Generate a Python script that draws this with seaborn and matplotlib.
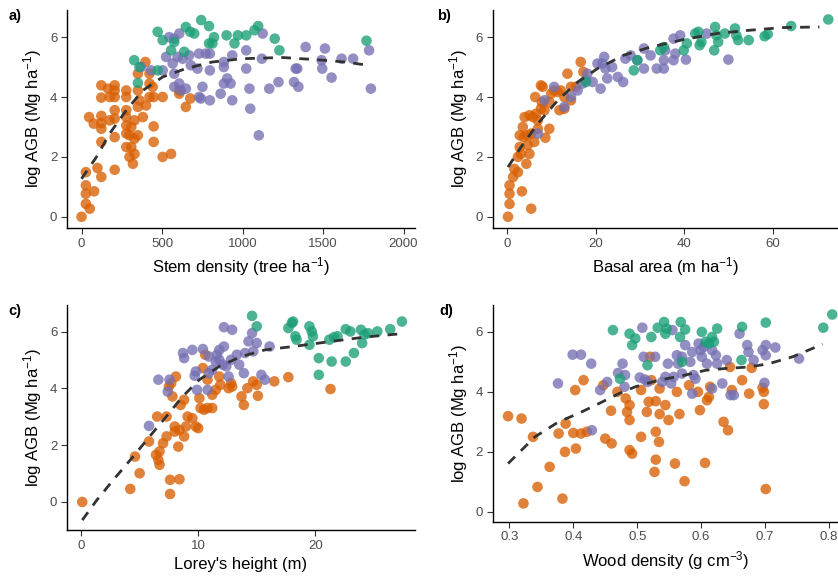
import matplotlib
matplotlib.use("Agg")
import matplotlib.pyplot as plt
import seaborn as sns
import pandas as pd

# ---------------- data ----------------
groups = ["G1", "G2", "G3"]
colors = ["#D95F02", "#7570B3", "#1B9E77"]

# Panel a: stem density
a_or_x = [0, 27, 27, 27, 51, 78, 27, 99, 123, 206, 47, 76, 123, 123, 123, 123, 123, 123, 165, 175, 206, 206, 206, 206, 206, 175, 206,
          278, 278, 278, 278, 278, 278, 278, 298, 319, 329, 309, 298, 329, 350, 309, 329, 350, 360, 350, 350, 381, 401, 422, 442, 422,
          422, 397, 448, 448, 448, 504, 504, 556, 607, 607, 648, 675]
a_or_y = [0, 0.43, 0.77, 1.05, 0.27, 0.85, 1.49, 1.63, 1.33, 1.57, 3.33, 3.11, 3.37, 3.13, 2.94, 2.5, 3.98, 4.39, 4.28, 4.0, 4.39, 4.22,
          4.0, 3.56, 3.28, 3.22, 2.66, 4.22, 4.0, 3.56, 3.33, 3.05, 2.78, 2.33, 2.0, 1.77, 2.1, 2.33, 2.72, 2.61, 2.72, 3.0, 3.22, 3.67,
          3.89, 4.22, 4.78, 3.33, 3.72, 4.0, 4.34, 4.45, 4.78, 5.17, 4.0, 3.02, 2.5, 4.0, 2.0, 2.1, 4.22, 4.11, 3.67, 3.95]
a_pu_x = [370, 432, 504, 525, 566, 576, 576, 607, 597, 607, 576, 617, 628, 648, 669, 679, 730, 720, 751, 741, 730, 797, 797, 797, 772,
          864, 884, 905, 926, 936, 884, 884, 936, 1023, 1023, 1043, 1048, 1101, 1125, 1120, 1166, 1223, 1320, 1330, 1347, 1340, 1392,
          1491, 1495, 1512, 1553, 1615, 1687, 1786, 1797, 545]
a_pu_y = [5.0, 4.89, 4.89, 5.34, 5.12, 4.78, 5.95, 6.12, 5.34, 4.45, 4.34, 4.22, 5.28, 4.28, 5.39, 5.06, 5.45, 4.95, 4.34, 3.95, 4.0,
          3.89, 4.89, 5.45, 5.45, 4.11, 4.45, 4.62, 4.45, 3.89, 5.0, 5.17, 5.39, 5.56, 4.95, 4.28, 3.61, 2.72, 6.12, 5.28, 4.28, 4.5,
          4.5, 4.95, 4.34, 4.95, 5.67, 5.23, 4.95, 5.62, 4.65, 5.28, 5.28, 5.56, 4.28, 6.0]
a_gr_x = [327, 350, 473, 504, 556, 576, 638, 648, 675, 700, 743, 792, 823, 813, 792, 901, 950, 971, 1023, 1074, 1097, 1200, 1229, 1770, 473, 360]
a_gr_y = [5.23, 4.47, 6.18, 5.9, 5.56, 5.84, 5.51, 6.34, 6.18, 6.12, 6.57, 6.37, 6.0, 5.79, 5.79, 6.06, 5.79, 6.06, 6.06, 6.23, 6.37,
          5.95, 5.56, 5.88, 4.89, 5.0]
a_fit_x = [0, 93, 175, 278, 381, 504, 648, 813, 1000, 1247, 1450, 1636, 1780]
a_fit_y = [1.27, 2.0, 2.78, 3.56, 4.22, 4.67, 4.95, 5.17, 5.28, 5.32, 5.25, 5.17, 5.06]

# Panel b: basal area
b_or_x = [0.15, 0.5, 0.5, 0.5, 5.4, 3.3, 1.6, 1.3, 2.4, 2.4, 3.1, 4.3, 5.0, 2.8, 4.6, 2.8, 3.5, 3.7, 4.6, 6.1, 5.4, 6.9, 8.6, 9.5,
          3.9, 5.0, 5.8, 6.5, 6.9, 7.6, 7.8, 8.4, 7.6, 8.0, 6.3, 9.5, 9.9, 10.6, 11.4, 12.1, 11.8, 12.9, 14.4, 14.4, 15.5, 13.6, 16.6, 17.2, 12.9]
b_or_y = [0, 0.43, 0.77, 1.05, 0.27, 0.85, 1.6, 1.33, 1.49, 2.0, 2.1, 1.77, 2.1, 2.33, 2.39, 2.72, 3.0, 2.66, 2.72, 2.5, 2.78, 2.94,
          2.64, 2.94, 3.33, 3.39, 3.33, 3.44, 3.22, 3.61, 3.83, 3.56, 4.39, 4.34, 4.0, 3.83, 4.11, 4.22, 4.17, 4.22, 3.56, 3.61, 3.89,
          4.34, 4.34, 4.78, 5.17, 4.84, 4.0]
b_pu_x = [6.9, 8.4, 10.6, 12.9, 14.4, 15.9, 17.0, 17.8, 18.1, 19.3, 21.1, 20.4, 21.5, 21.9, 22.2, 22.6, 23.7, 25.0, 26.2, 26.7, 27.9,
          29.4, 30.9, 30.9, 32.4, 33.8, 35.4, 35.4, 35.7, 37.6, 37.6, 39.1, 38.0, 40.4, 45.1, 50.0]
b_pu_y = [2.78, 3.89, 4.34, 3.67, 4.0, 4.22, 4.45, 4.56, 4.78, 4.5, 4.28, 5.12, 5.12, 5.34, 4.95, 4.62, 5.0, 4.67, 4.5, 5.28, 5.39,
          5.23, 4.95, 5.62, 5.39, 4.95, 4.95, 5.23, 5.56, 5.23, 5.95, 6.06, 5.45, 5.25, 6.12, 5.25]
b_gr_x = [17.8, 28.6, 29.4, 34.6, 35.4, 39.9, 40.6, 42.5, 43.2, 43.9, 43.5, 47.0, 47.3, 47.7, 46.8, 49.2, 51.5, 51.8, 52.2, 54.6,
          58.2, 58.9, 64.2, 72.6]
b_gr_y = [4.5, 4.89, 5.23, 5.56, 5.67, 5.56, 5.79, 6.12, 6.18, 5.84, 5.73, 6.34, 6.06, 5.84, 5.56, 6.12, 6.29, 6.06, 5.9, 5.9, 6.03,
          6.1, 6.37, 6.59]
b_fit_x = [0.15, 3.1, 6.9, 11.4, 15.9, 20.4, 26.4, 32.4, 39.9, 47.3, 54.8, 62.3, 70.6]
b_fit_y = [1.66, 2.33, 3.11, 3.89, 4.5, 4.95, 5.4, 5.67, 5.92, 6.12, 6.23, 6.32, 6.34]

# Panel c: Lorey's height
c_or_x = [0.1, 4.2, 5.0, 4.6, 5.8, 6.4, 6.6, 6.7, 6.7, 6.5, 7.0, 7.3, 7.3, 7.6, 7.6, 8.4, 7.5, 7.7, 8.1, 7.8, 8.0, 8.0, 8.4, 8.3, 8.8,
          8.96, 8.5, 8.8, 9.1, 9.5, 9.8, 10.0, 10.1, 10.2, 10.5, 10.8, 11.2, 10.6, 10.4, 10.8, 11.2, 11.5, 11.8, 11.9, 12.6, 12.9,
          12.8, 14.2, 13.7, 13.9, 14.7, 15.0, 15.1, 16.5, 17.7, 21.3]
c_or_y = [0, 0.46, 1.01, 1.6, 2.13, 1.66, 1.48, 1.31, 1.78, 3.01, 2.07, 2.31, 3.01, 0.78, 0.28, 0.8, 4.07, 4.19, 4.42, 3.72, 2.66,
          2.48, 2.54, 1.95, 2.31, 2.66, 3.42, 3.6, 3.01, 2.95, 2.66, 2.6, 3.66, 3.31, 3.25, 3.31, 3.31, 5.19, 4.72, 4.31, 3.78, 3.95,
          4.42, 4.13, 4.01, 4.07, 4.19, 4.01, 3.72, 3.42, 4.25, 4.13, 3.74, 4.25, 4.4, 3.98]
c_pu_x = [5.8, 6.6, 7.55, 7.4, 8.7, 8.8, 9.5, 9.7, 9.8, 9.9, 10.4, 10.9, 10.9, 10.8, 11.2, 11.5, 11.6, 11.8, 12.1, 12.2, 12.9, 12.2,
          12.4, 12.8, 13.3, 13.5, 13.9, 14.0, 14.3, 14.6, 14.7, 15.0, 15.4, 15.7, 16.1, 11.8, 12.6]
c_pu_y = [2.68, 4.31, 4.31, 3.89, 5.25, 5.07, 5.36, 4.45, 4.6, 3.95, 5.39, 5.13, 4.54, 3.95, 4.66, 4.95, 5.19, 5.01, 4.84, 6.16, 6.07,
          5.48, 4.78, 5.01, 5.19, 4.84, 4.54, 5.25, 5.66, 5.95, 5.31, 5.6, 4.48, 4.31, 5.48, 5.36, 4.42]
c_gr_x = [14.6, 15.0, 17.7, 18.0, 18.1, 18.3, 18.4, 19.5, 19.7, 19.8, 19.5, 20.3, 20.3, 21.4, 21.2, 21.6, 21.9, 22.6, 23.0, 22.6,
          23.3, 23.9, 24.0, 24.2, 24.5, 25.3, 26.4, 27.4]
c_gr_y = [6.56, 6.19, 6.13, 6.31, 6.36, 5.84, 5.72, 6.19, 6.01, 5.84, 5.54, 5.07, 4.48, 4.95, 5.72, 5.81, 5.84, 6.09, 6.01, 4.95,
          5.25, 6.07, 5.6, 5.9, 5.95, 6.01, 6.09, 6.36]
c_fit_x = [0.1, 1.35, 2.76, 4.45, 5.86, 7.27, 8.68, 10.1, 11.8, 13.7, 15.7, 18.5, 21.4, 24.2, 27.3]
c_fit_y = [-0.64, 0.07, 0.78, 1.6, 2.31, 3.01, 3.72, 4.31, 4.78, 5.13, 5.36, 5.5, 5.66, 5.81, 5.93]

# Panel d: wood density
d_or_x = [0.298, 0.319, 0.322, 0.337, 0.344, 0.363, 0.377, 0.383, 0.387, 0.388, 0.4, 0.403, 0.404, 0.412, 0.416, 0.421, 0.447, 0.45,
          0.46, 0.459, 0.469, 0.482, 0.484, 0.488, 0.488, 0.488, 0.492, 0.506, 0.506, 0.515, 0.518, 0.52, 0.522, 0.529, 0.529, 0.529,
          0.527, 0.534, 0.535, 0.535, 0.544, 0.549, 0.559, 0.562, 0.566, 0.574, 0.581, 0.595, 0.598, 0.606, 0.609, 0.612, 0.614,
          0.635, 0.642, 0.645, 0.648, 0.664, 0.675, 0.679, 0.696, 0.698, 0.698, 0.701]
d_or_y = [3.19, 3.11, 0.28, 2.5, 0.83, 1.5, 2.61, 0.44, 2.0, 2.94, 2.63, 4.06, 2.11, 2.61, 4.39, 2.67, 4.22, 2.44, 2.28, 3.37, 4.0,
          3.78, 3.33, 3.56, 3.06, 2.06, 1.94, 4.06, 2.5, 3.33, 3.67, 5.17, 4.39, 3.69, 2.67, 1.74, 1.33, 2.33, 4.11, 3.26, 3.56, 3.06,
          1.61, 4.0, 3.26, 1.02, 4.22, 4.0, 3.39, 1.63, 3.72, 3.83, 4.17, 3.0, 2.72, 4.83, 4.06, 4.39, 3.94, 4.8, 4.14, 4.0, 3.59, 0.76]
d_pu_x = [0.376, 0.399, 0.412, 0.428, 0.429, 0.442, 0.453, 0.47, 0.477, 0.481, 0.48, 0.504, 0.508, 0.51, 0.512, 0.516, 0.528, 0.539,
          0.544, 0.548, 0.553, 0.555, 0.557, 0.562, 0.564, 0.57, 0.57, 0.575, 0.583, 0.586, 0.588, 0.591, 0.596, 0.599, 0.601, 0.604,
          0.609, 0.586, 0.617, 0.617, 0.623, 0.625, 0.633, 0.64, 0.646, 0.651, 0.66, 0.672, 0.674, 0.682, 0.696, 0.701, 0.701, 0.699,
          0.716, 0.753]
d_pu_y = [4.28, 5.24, 5.24, 4.94, 2.72, 4.06, 4.33, 4.63, 4.94, 4.56, 4.17, 4.48, 6.14, 5.17, 4.41, 4.33, 5.17, 4.33, 4.5, 4.94, 4.28,
          6.06, 4.5, 5.22, 4.94, 5.17, 4.61, 5.56, 5.0, 5.33, 4.56, 4.44, 5.61, 5.39, 5.17, 5.5, 4.94, 3.94, 5.39, 4.11, 5.22, 4.94,
          4.28, 5.06, 3.89, 3.89, 5.94, 5.56, 5.33, 5.06, 5.39, 5.56, 5.22, 4.3, 5.48, 5.11]
d_gr_x = [0.462, 0.473, 0.488, 0.492, 0.497, 0.522, 0.516, 0.532, 0.542, 0.544, 0.546, 0.568, 0.567, 0.575, 0.57, 0.601, 0.607,
          0.612, 0.617, 0.625, 0.62, 0.664, 0.663, 0.701, 0.791, 0.805]
d_gr_y = [6.06, 4.44, 5.94, 5.56, 5.78, 5.83, 4.89, 6.14, 6.33, 5.94, 6.11, 6.33, 5.83, 6.08, 5.0, 6.0, 5.67, 5.61, 5.83, 6.11, 5.67,
          6.17, 5.06, 6.31, 6.14, 6.58]
d_fit_x = [0.298, 0.34, 0.377, 0.408, 0.44, 0.471, 0.497, 0.534, 0.575, 0.607, 0.638, 0.675, 0.706, 0.743, 0.79]
d_fit_y = [1.61, 2.5, 3.0, 3.28, 3.61, 3.94, 4.17, 4.39, 4.56, 4.72, 4.78, 4.83, 4.94, 5.17, 5.59]

panel_letters = ["a)", "b)", "c)", "d)"]
x_labels = ["Stem density (tree ha$^{-1}$)", "Basal area (m ha$^{-1}$)", "Lorey's height (m)", "Wood density (g cm$^{-3}$)"]
y_label = "log AGB (Mg ha$^{-1}$)"
x_ticks = [[0, 500, 1000, 1500, 2000], [0, 20, 40, 60], [0, 10, 20], [0.3, 0.4, 0.5, 0.6, 0.7, 0.8]]
x_ticklabels = [["0", "500", "1000", "1500", "2000"], ["0", "20", "40", "60"], ["0", "10", "20"],
                ["0.3", "0.4", "0.5", "0.6", "0.7", "0.8"]]
y_ticks = [0, 2, 4, 6]

# ---------------- style ----------------
sns.set_theme(style="white")
plt.rcParams["font.family"] = ["Liberation Sans", "DejaVu Sans"]
plt.rcParams["mathtext.fontset"] = "custom"
plt.rcParams["mathtext.rm"] = "Liberation Sans"
plt.rcParams["mathtext.default"] = "regular"

fig = plt.figure(figsize=(8.38, 5.82), dpi=100)
positions = [
    [0.080, 0.608, 0.415, 0.375],
    [0.588, 0.608, 0.412, 0.375],
    [0.080, 0.0893, 0.415, 0.387],
    [0.588, 0.1036, 0.412, 0.372],
]
xlims = [(-90, 2070), (-3.3, 74.8), (-1.2, 28.5), (0.274, 0.814)]
ylims = [(-0.38, 6.91), (-0.38, 6.91), (-0.99, 6.95), (-0.33, 6.89)]

panels = [
    (a_or_x, a_or_y, a_pu_x, a_pu_y, a_gr_x, a_gr_y, a_fit_x, a_fit_y),
    (b_or_x, b_or_y, b_pu_x, b_pu_y, b_gr_x, b_gr_y, b_fit_x, b_fit_y),
    (c_or_x, c_or_y, c_pu_x, c_pu_y, c_gr_x, c_gr_y, c_fit_x, c_fit_y),
    (d_or_x, d_or_y, d_pu_x, d_pu_y, d_gr_x, d_gr_y, d_fit_x, d_fit_y),
]
letter_pos = [(0.010, 0.972), (0.522, 0.972), (0.010, 0.465), (0.524, 0.465)]

for i, (ox, oy, px, py, gx, gy, fx, fy) in enumerate(panels):
    ax = fig.add_axes(positions[i])
    df = pd.DataFrame({
        "x": list(ox) + list(px) + list(gx),
        "y": list(oy) + list(py) + list(gy),
        "g": [groups[0]] * len(ox) + [groups[1]] * len(px) + [groups[2]] * len(gx),
    })
    sns.scatterplot(data=df, x="x", y="y", hue="g", palette=dict(zip(groups, colors)),
                    s=58, alpha=0.78, edgecolor="none", legend=False, ax=ax, zorder=2)
    fit = pd.DataFrame({"x": fx, "y": fy})
    sns.lineplot(data=fit, x="x", y="y", color="#333333", lw=2.0, ax=ax, zorder=3,
                 dashes=False, linestyle=(0, (3.5, 3)))
    ax.set_xlim(*xlims[i])
    ax.set_ylim(*ylims[i])
    ax.set_xticks(x_ticks[i])
    ax.set_xticklabels(x_ticklabels[i])
    ax.set_yticks(y_ticks)
    ax.set_xlabel(x_labels[i], fontsize=12, color="black", labelpad=4)
    ax.set_ylabel(y_label, fontsize=12, color="black", labelpad=4)
    ax.tick_params(axis="both", which="both", direction="out", length=4, width=0.8,
                   color="#333333", labelcolor="#4D4D4D", labelsize=9.5, pad=3,
                   bottom=True, left=True)
    for side in ["top", "right"]:
        ax.spines[side].set_visible(False)
    for side in ["left", "bottom"]:
        ax.spines[side].set_color("black")
        ax.spines[side].set_linewidth(1.0)
    ax.grid(False)
    fig.text(letter_pos[i][0], letter_pos[i][1], panel_letters[i], fontsize=10.5,
             fontweight="bold", ha="left", va="center", color="black")

fig.savefig("out.png", dpi=100)
